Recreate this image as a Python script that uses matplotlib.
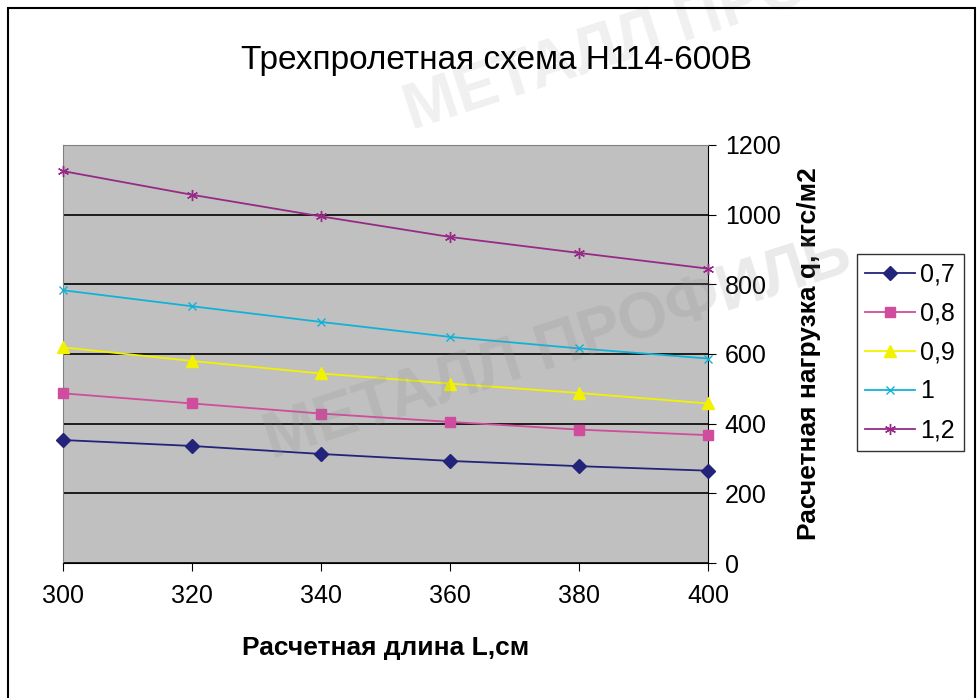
import matplotlib
matplotlib.use('Agg')
import matplotlib.pyplot as plt
from matplotlib.patches import Rectangle

# span lengths, cm
lengths = [300, 320, 340, 360, 380, 400]

# design load q, kgf/m2, per sheet thickness
q_07 = [353, 336, 313, 293, 278, 265]
q_08 = [487, 458, 429, 405, 383, 367]
q_09 = [619, 580, 544, 515, 488, 458]
q_10 = [783, 737, 692, 649, 616, 587]
q_12 = [1125, 1057, 995, 936, 890, 845]

series_labels = ['0,7', '0,8', '0,9', '1', '1,2']
y_ticks = [0, 200, 400, 600, 800, 1000, 1200]


def main():
    plt.rcParams['font.family'] = ['Liberation Sans', 'DejaVu Sans']
    fig = plt.figure(figsize=(9.79, 6.98), dpi=100)
    ax = fig.add_axes([0.0644, 0.1934, 0.6588, 0.5989])
    ax.set_facecolor('#C0C0C0')

    # faint watermark
    fig.text(0.57, 0.50, 'МЕТАЛЛ ПРОФИЛЬ', fontsize=46, fontweight='bold',
             color='#8a8a8a', alpha=0.18, rotation=18, ha='center', va='center', zorder=5)
    fig.text(0.62, 0.93, 'МЕТАЛЛ ПРО', fontsize=46, fontweight='bold',
             color='#8a8a8a', alpha=0.13, rotation=18, ha='center', va='center', zorder=0)

    styles = [
        (q_07, '#23237A', 'D', 7),
        (q_08, '#D04C9C', 's', 7),
        (q_09, '#F2F200', '^', 8),
        (q_10, '#12B2D8', 'x', 6),
        (q_12, '#962A86', (6, 2, 0), 8),
    ]
    for (vals, col, mk, ms), lab in zip(styles, series_labels):
        ax.plot(lengths, vals, color=col, marker=mk, markersize=ms, linewidth=1.3,
                label=lab, clip_on=False, zorder=3)

    ax.set_xlim(300, 400)
    ax.set_ylim(0, 1200)
    ax.set_xticks(lengths)
    ax.set_yticks(y_ticks)
    ax.yaxis.tick_right()
    ax.yaxis.set_label_position('right')
    ax.grid(axis='y', color='black', linewidth=1.2)
    ax.set_axisbelow(True)
    ax.tick_params(axis='both', labelsize=18, length=6, direction='out')
    ax.tick_params(axis='x', pad=9)
    ax.tick_params(axis='y', pad=6)
    for s in ['top', 'left']:
        ax.spines[s].set_color('#808080')
    ax.spines['right'].set_color('black')
    ax.spines['bottom'].set_color('black')

    ax.set_xlabel('Расчетная длина L,см', fontsize=19, fontweight='bold', labelpad=20)
    ax.set_ylabel('Расчетная нагрузка q, кгс/м2', fontsize=19, fontweight='bold', labelpad=12)

    fig.text(0.507, 0.914, 'Трехпролетная схема Н114-600В', fontsize=24,
             ha='center', va='center')

    leg = ax.legend(loc='center left', bbox_to_anchor=(0.875, 0.495),
                    bbox_transform=fig.transFigure, fontsize=18, frameon=True,
                    fancybox=False, edgecolor='black', handlelength=2.0,
                    handletextpad=0.2, labelspacing=0.6, borderpad=0.35,
                    borderaxespad=0)
    leg.get_frame().set_linewidth(1.0)

    fig.patches.append(Rectangle((0.008, -0.01), 0.988, 0.998, transform=fig.transFigure,
                                 fill=False, edgecolor='black', linewidth=1.5))

    fig.savefig('out.png', dpi=100)


if __name__ == "__main__":
    main()
